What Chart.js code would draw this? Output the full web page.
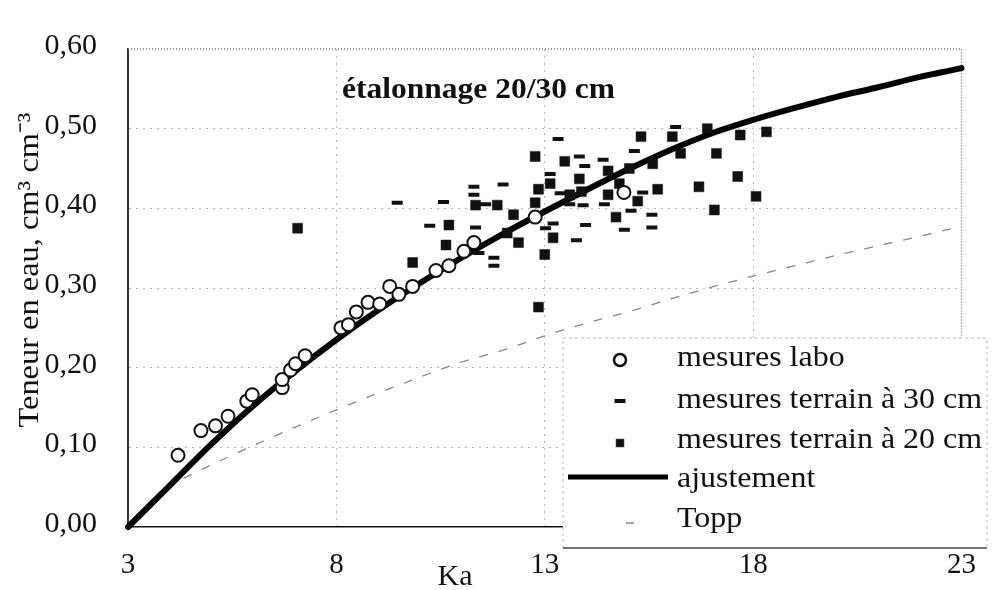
<!DOCTYPE html>
<html>
<head>
<meta charset="utf-8">
<title>étalonnage 20/30 cm</title>
<script src="https://cdn.jsdelivr.net/npm/chart.js@4.4.1/dist/chart.umd.min.js"></script>
<style>
  html, body { margin: 0; padding: 0; background: #fff; }
  #chart { display: block; }
</style>
</head>
<body>
<canvas id="chart" width="997" height="590"></canvas>
<script>
// axis ticks
const kaTicks = [3, 8, 13, 18, 23];
const thetaTicks = [0, 0.1, 0.2, 0.3, 0.4, 0.5, 0.6];
const thetaTickLabels = ["0,00", "0,10", "0,20", "0,30", "0,40", "0,50", "0,60"];

// mesures labo (open circles)
const laboKa = [4.20, 4.75, 5.10, 5.40, 5.85, 5.98, 6.70, 6.70, 6.90, 7.02, 7.25, 8.11, 8.29,
  8.48, 8.76, 9.04, 9.28, 9.50, 9.83, 10.39, 10.70, 11.06, 11.30, 12.77, 14.90];
const laboTheta = [0.090, 0.121, 0.127, 0.139, 0.158, 0.166, 0.175, 0.185, 0.197, 0.205, 0.215, 0.250, 0.254,
  0.270, 0.282, 0.280, 0.302, 0.292, 0.302, 0.322, 0.328, 0.346, 0.357, 0.389, 0.420];

// mesures terrain à 30 cm (dashes)
const t30Ka = [9.46, 10.24, 10.57, 11.30, 11.30, 11.34, 11.42, 11.58, 11.78, 11.78, 12.00, 13.02, 13.13,
  13.20, 13.32, 13.37, 13.60, 13.76, 13.83, 13.92, 13.96, 13.98, 14.40, 14.43, 14.91, 15.07, 15.15,
  15.35, 15.57, 15.57, 16.14];
const t30Theta = [0.407, 0.378, 0.408, 0.427, 0.417, 0.376, 0.344, 0.405, 0.338, 0.328, 0.430, 0.375, 0.443,
  0.381, 0.487, 0.419, 0.405, 0.360, 0.465, 0.404, 0.453, 0.379, 0.461, 0.405, 0.373, 0.397, 0.472,
  0.420, 0.392, 0.376, 0.502];

// mesures terrain à 20 cm (filled squares)
const t20Ka = [7.07, 9.83, 10.63, 10.70, 11.34, 11.86, 12.10, 12.25, 12.37, 12.77, 12.77, 12.85, 12.85,
  13.00, 13.13, 13.20, 13.48, 13.60, 13.83, 13.88, 14.52, 14.52, 14.71, 14.79, 15.03, 15.23, 15.31,
  15.59, 15.71, 16.06, 16.26, 16.70, 16.90, 17.07, 17.12, 17.63, 17.69, 18.07, 18.32];
const t20Theta = [0.375, 0.332, 0.354, 0.379, 0.404, 0.404, 0.369, 0.392, 0.357, 0.465, 0.407, 0.424, 0.276,
  0.342, 0.431, 0.363, 0.459, 0.417, 0.437, 0.421, 0.447, 0.417, 0.389, 0.431, 0.450, 0.409, 0.490,
  0.456, 0.424, 0.490, 0.469, 0.427, 0.500, 0.398, 0.469, 0.440, 0.492, 0.415, 0.496];

// ajustement (thick curve)
const fitKa = [3, 4, 5, 6, 7, 8, 9, 10, 11, 12, 13, 14, 15, 16, 17, 18, 19, 20, 21, 22, 23, 23.4];
const fitTheta = [0.000, 0.052, 0.104, 0.152, 0.195, 0.235, 0.272, 0.306, 0.338, 0.368, 0.396, 0.423,
  0.449, 0.473, 0.494, 0.511, 0.526, 0.540, 0.552, 0.565, 0.576, 0.581];

// Topp (thin dashed curve)
const toppKa = [3.9, 5, 6, 7, 8, 9, 10, 11, 12, 13, 14, 15, 16, 17, 18, 19, 20, 21, 22, 23, 23.4];
const toppTheta = [0.050, 0.078, 0.102, 0.125, 0.147, 0.168, 0.188, 0.207, 0.222, 0.240, 0.256, 0.270,
  0.286, 0.301, 0.315, 0.328, 0.341, 0.353, 0.365, 0.377, 0.381];

const pts = (xs, ys) => xs.map((x, i) => ({ x: x, y: ys[i] }));
const serif = "'Liberation Serif', 'Times New Roman', serif";

// draw text stretched to a given width
function fitText(ctx, text, x, y, width, align) {
  const w = ctx.measureText(text).width;
  ctx.save();
  ctx.translate(x, y);
  ctx.scale(width / w, 1);
  ctx.textAlign = align || "left";
  ctx.fillText(text, 0, 0);
  ctx.restore();
}

const overlay = {
  id: "overlay",
  beforeDatasetsDraw(chart) {
    const { ctx, chartArea: a } = chart;
    // dotted top / right frame
    ctx.save();
    ctx.strokeStyle = "#777";
    ctx.lineWidth = 1.5;
    ctx.setLineDash([1, 2]);
    ctx.beginPath();
    ctx.moveTo(a.left, a.top);
    ctx.lineTo(a.right, a.top);
    ctx.lineTo(a.right, a.bottom);
    ctx.stroke();
    ctx.restore();
  },
  afterDraw(chart) {
    const ctx = chart.ctx;
    ctx.save();
    ctx.fillStyle = "#111";
    ctx.textBaseline = "alphabetic";

    // title inside the plot
    ctx.font = "bold 29px " + serif;
    fitText(ctx, "étalonnage 20/30 cm", 342, 98, 273);

    // x axis title
    ctx.font = "30px " + serif;
    fitText(ctx, "Ka", 455, 585, 35, "center");

    // y axis title
    ctx.save();
    ctx.translate(38, 270);
    ctx.rotate(-Math.PI / 2);
    ctx.font = "30px " + serif;
    fitText(ctx, "Teneur en eau, cm³ cm⁻³", 0, 0, 315, "center");
    ctx.restore();

    // legend box
    const box = { x: 563, y: 338, w: 424, h: 210 };
    ctx.fillStyle = "#fff";
    ctx.fillRect(box.x, box.y, box.w, box.h);
    ctx.strokeStyle = "#bbb";
    ctx.lineWidth = 1;
    ctx.setLineDash([3, 3]);
    ctx.beginPath();
    ctx.moveTo(box.x, box.y + box.h);
    ctx.lineTo(box.x, box.y);
    ctx.lineTo(box.x + box.w, box.y);
    ctx.lineTo(box.x + box.w, box.y + box.h);
    ctx.stroke();
    ctx.setLineDash([]);
    ctx.strokeStyle = "#444";
    ctx.lineWidth = 1.5;
    ctx.beginPath();
    ctx.moveTo(box.x, box.y + box.h);
    ctx.lineTo(box.x + box.w, box.y + box.h);
    ctx.stroke();

    const symY = [360, 401, 443, 477, 523];
    const textY = [366, 408, 448, 487, 527];
    const symX = 620;
    const ds = chart.data.datasets;

    // point symbols
    const legendPoints = [
      { style: "circle", radius: 6, bw: 2.5, fill: "#fff" },
      { style: "line", radius: 5.5, bw: 4, fill: "#111" },
      { style: "rect", radius: 5.5, bw: 0.5, fill: "#111" }
    ];
    legendPoints.forEach((p, i) => {
      ctx.fillStyle = p.fill;
      ctx.strokeStyle = "#111";
      ctx.lineWidth = p.bw;
      Chart.helpers.drawPoint(ctx, { pointStyle: p.style, radius: p.radius, rotation: 0, borderWidth: p.bw }, symX, symY[i]);
    });
    // ajustement line
    ctx.strokeStyle = ds[3].borderColor;
    ctx.lineWidth = 5;
    ctx.beginPath();
    ctx.moveTo(568, symY[3]);
    ctx.lineTo(668, symY[3]);
    ctx.stroke();
    // Topp dash
    ctx.strokeStyle = ds[4].borderColor;
    ctx.lineWidth = 1.5;
    ctx.beginPath();
    ctx.moveTo(626, symY[4]);
    ctx.lineTo(634, symY[4]);
    ctx.stroke();

    // legend labels
    ctx.fillStyle = "#111";
    ctx.font = "29px " + serif;
    const sx = 305 / ctx.measureText(ds[1].label).width;
    ds.forEach((d, i) => {
      const w = ctx.measureText(d.label).width * sx;
      fitText(ctx, d.label, 677, textY[i], w);
    });
    ctx.restore();
  }
};

const gridColor = (edge) => (c) =>
  (c.tick && edge.indexOf(c.tick.value) >= 0) ? "rgba(0,0,0,0)" : "rgba(120,120,120,0.5)";

new Chart(document.getElementById("chart"), {
  type: "scatter",
  data: {
    datasets: [
      {
        label: "mesures labo",
        data: pts(laboKa, laboTheta),
        pointStyle: "circle",
        pointRadius: 6.5,
        pointBorderWidth: 2,
        backgroundColor: "#fff",
        borderColor: "#111",
        order: 1
      },
      {
        label: "mesures terrain à 30 cm",
        data: pts(t30Ka, t30Theta),
        pointStyle: "line",
        pointRadius: 5.5,
        pointBorderWidth: 4,
        backgroundColor: "#111",
        borderColor: "#111",
        order: 1
      },
      {
        label: "mesures terrain à 20 cm",
        data: pts(t20Ka, t20Theta),
        pointStyle: "rect",
        pointRadius: 7,
        pointBorderWidth: 0.5,
        backgroundColor: "#111",
        borderColor: "#111",
        order: 1
      },
      {
        label: "ajustement",
        data: pts(fitKa, fitTheta),
        showLine: true,
        pointRadius: 0,
        borderColor: "#000",
        borderWidth: 6,
        borderCapStyle: "round",
        cubicInterpolationMode: "monotone",
        clip: { left: 5, top: 5, right: 20, bottom: 5 },
        order: 2
      },
      {
        label: "Topp",
        data: pts(toppKa, toppTheta),
        showLine: true,
        pointRadius: 0,
        borderColor: "#888",
        borderWidth: 1.3,
        borderDash: [9, 11],
        cubicInterpolationMode: "monotone",
        clip: { left: 5, top: 5, right: 20, bottom: 5 },
        order: 3
      }
    ]
  },
  options: {
    responsive: false,
    animation: false,
    devicePixelRatio: 1,
    layout: { padding: { top: 25, right: 28, left: 0, bottom: 0 }, autoPadding: false },
    plugins: {
      legend: { display: false },
      tooltip: { enabled: false }
    },
    scales: {
      x: {
        type: "linear",
        min: 3,
        max: 23,
        afterBuildTicks: (s) => { s.ticks = kaTicks.map((v) => ({ value: v })); },
        afterFit: (s) => { s.height = 63; },
        ticks: {
          padding: 21,
          color: "#111",
          font: { family: serif, size: 29 },
          maxRotation: 0,
          autoSkip: false
        },
        grid: { drawTicks: false, color: gridColor([3, 23]), lineWidth: 1 },
        border: { color: "#111", width: 1.5, dash: [2, 5] }
      },
      y: {
        type: "linear",
        min: 0,
        max: 0.6,
        afterBuildTicks: (s) => { s.ticks = thetaTicks.map((v) => ({ value: v })); },
        afterFit: (s) => { s.width = 128; },
        ticks: {
          padding: 31,
          labelOffset: -3,
          color: "#111",
          font: { family: serif, size: 30 },
          autoSkip: false,
          callback: (v, i) => thetaTickLabels[i]
        },
        grid: { drawTicks: false, color: gridColor([0, 0.6]), lineWidth: 1 },
        border: { color: "#333", width: 2, dash: [2, 5] }
      }
    }
  },
  plugins: [overlay]
});
</script>
</body>
</html>
